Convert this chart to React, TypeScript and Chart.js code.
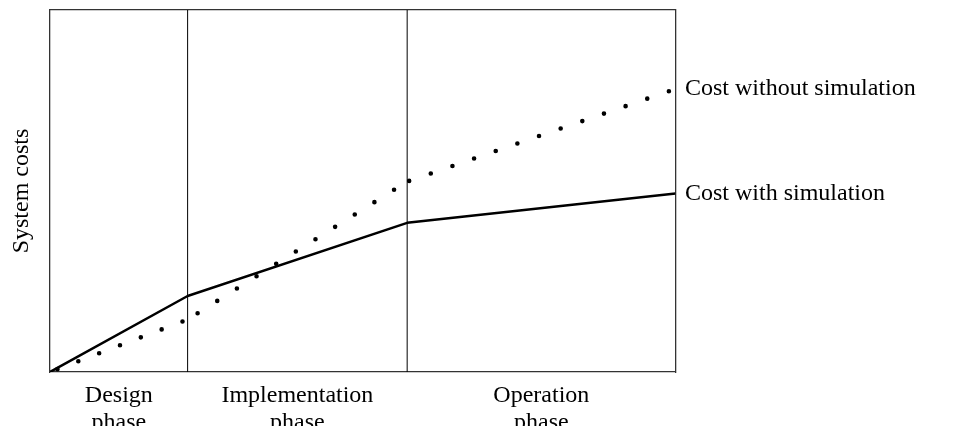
import React, { useEffect, useRef } from 'react';
import { Chart, registerables } from 'chart.js';

Chart.register(...registerables);

// Phase boundaries along the (relative) time axis, 0..100
const phaseBounds = [0, 22, 57.1, 100];
const phaseLabels = [
  ['Design', 'phase'],
  ['Implementation', 'phase'],
  ['Operation', 'phase'],
];
// Relative system cost at each phase boundary (0..100)
const costWithSimulation = [0, 21.0, 41.2, 49.3];
const costWithoutSimulation = [0, 14.5, 52.6, 78.2];
const seriesNames = ['Cost without simulation', 'Cost with simulation'];
const yAxisTitle = 'System costs';

const FONT = "'Liberation Serif', 'Times New Roman', Times, serif";

const CANVAS_W = 938;
const CANVAS_H = 426;

export default function App() {
  const ref = useRef<HTMLCanvasElement>(null);

  useEffect(() => {
    const canvas = ref.current!;
    Chart.defaults.font.family = FONT;
    Chart.defaults.color = '#000';

    const toXY = (vals: number[]) => phaseBounds.map((x, i) => ({ x, y: vals[i] }));
    const last = (a: number[]) => a[a.length - 1];
    const dotSpacing = [22.3, 23.2, 22.9];
    const dotOffset = [14.3, 11.4, 20.8];

    const dividers = phaseBounds.slice(1, -1).map((x) => ({
      type: 'line' as const,
      label: 'divider',
      data: [
        { x, y: 0 },
        { x, y: 100 },
      ],
      borderColor: '#000',
      borderWidth: 1,
      pointRadius: 0,
      xAxisID: 'x',
      yAxisID: 'y',
    }));

    const noGrid = { display: false, drawTicks: false };
    const border = { display: true, color: '#333', width: 1.3 };
    const fixSize = (w: number | null, h: number | null) => (axis: any) => {
      if (w !== null) axis.width = w;
      if (h !== null) axis.height = h;
      axis.paddingTop = 0;
      axis.paddingBottom = 0;
      axis.paddingLeft = 0;
      axis.paddingRight = 0;
    };

    const chart = new Chart(canvas, {
      type: 'line',
      data: {
        datasets: [
          {
            label: seriesNames[1],
            data: toXY(costWithSimulation),
            borderColor: '#000',
            borderWidth: 2.5,
            pointRadius: 0,
            borderJoinStyle: 'round',
            tension: 0,
            xAxisID: 'x',
            yAxisID: 'y',
          },
          {
            label: seriesNames[0],
            data: toXY(costWithoutSimulation),
            borderColor: '#000',
            borderWidth: 4.6,
            pointRadius: 0,
            borderCapStyle: 'round',
            tension: 0,
            xAxisID: 'x',
            yAxisID: 'y',
            segment: {
              borderDash: (c: any) => [0, dotSpacing[c.p0DataIndex]],
              borderDashOffset: (c: any) => dotOffset[c.p0DataIndex],
            },
          },
          ...dividers,
        ] as any,
      },
      options: {
        animation: false,
        responsive: false,
        events: [],
        layout: { padding: 0 },
        plugins: {
          legend: { display: false },
          tooltip: { enabled: false },
          title: { display: false },
        },
        scales: {
          x: {
            type: 'linear',
            position: 'bottom',
            min: 0,
            max: 100,
            grid: noGrid,
            border,
            afterBuildTicks: (axis: any) => {
              axis.ticks = phaseLabels.map((_, i) => ({
                value: (phaseBounds[i] + phaseBounds[i + 1]) / 2,
              }));
            },
            ticks: {
              autoSkip: false,
              maxRotation: 0,
              minRotation: 0,
              padding: 10,
              color: '#000',
              font: { size: 24, lineHeight: 1.125 },
              callback: (_v: any, i: number) => phaseLabels[i],
            },
            afterFit: fixSize(null, CANVAS_H - 364),
          },
          xTop: {
            type: 'linear',
            position: 'top',
            min: 0,
            max: 100,
            grid: noGrid,
            ticks: { display: false },
            border,
            afterFit: fixSize(null, 2),
          },
          y: {
            type: 'linear',
            position: 'left',
            min: 0,
            max: 100,
            grid: noGrid,
            border,
            ticks: { display: false },
            title: {
              display: true,
              text: yAxisTitle,
              color: '#000',
              font: { size: 24, lineHeight: 1 },
              padding: { top: 2, bottom: 0 },
            },
            afterFit: fixSize(42, null),
          },
          yRight: {
            type: 'linear',
            position: 'right',
            min: 0,
            max: 100,
            grid: noGrid,
            border,
            afterBuildTicks: (axis: any) => {
              axis.ticks = [
                { value: last(costWithoutSimulation) },
                { value: last(costWithSimulation) },
              ];
            },
            ticks: {
              autoSkip: false,
              padding: 9.5,
              color: '#000',
              font: { size: 24 },
              callback: (_v: any, i: number) => seriesNames[i],
            },
            afterFit: fixSize(CANVAS_W - 667.5, null),
          },
        },
      } as any,
    });

    return () => chart.destroy();
  }, []);

  return (
    <canvas
      ref={ref}
      width={CANVAS_W}
      height={CANVAS_H}
      style={{ display: 'block', marginBottom: -8 }}
    />
  );
}
